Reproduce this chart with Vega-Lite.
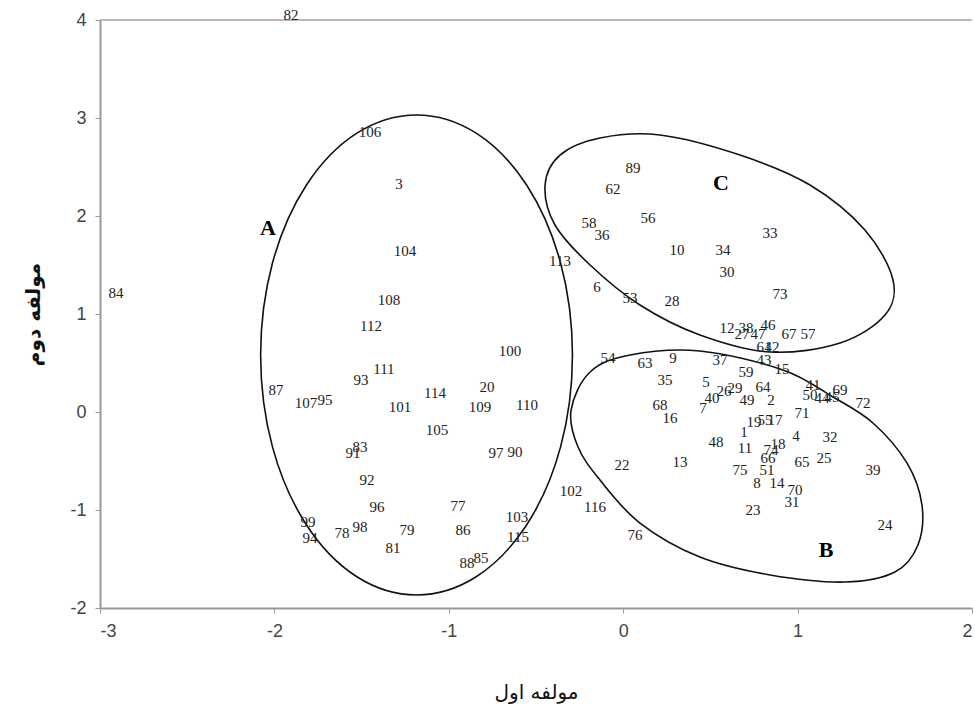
{
  "$schema": "https://vega.github.io/schema/vega-lite/v6.json",
  "width": 872,
  "height": 588,
  "autosize": {"type": "none"},
  "padding": {"left": 100, "top": 20, "right": 3, "bottom": 99},
  "background": "white",
  "config": {"view": {"stroke": null}},
  "datasets": {
    "pts": [
      {"label": "82", "x": -1.905, "y": 4.051},
      {"label": "84", "x": -2.908, "y": 1.214},
      {"label": "106", "x": -1.452, "y": 2.857},
      {"label": "3", "x": -1.286, "y": 2.327},
      {"label": "104", "x": -1.251, "y": 1.643},
      {"label": "108", "x": -1.343, "y": 1.143},
      {"label": "112", "x": -1.446, "y": 0.878},
      {"label": "111", "x": -1.372, "y": 0.439},
      {"label": "93", "x": -1.503, "y": 0.327},
      {"label": "87", "x": -1.991, "y": 0.224},
      {"label": "107", "x": -1.819, "y": 0.092},
      {"label": "95", "x": -1.71, "y": 0.122},
      {"label": "101", "x": -1.28, "y": 0.051},
      {"label": "114", "x": -1.079, "y": 0.194},
      {"label": "20", "x": -0.781, "y": 0.255},
      {"label": "109", "x": -0.821, "y": 0.051},
      {"label": "110", "x": -0.552, "y": 0.071},
      {"label": "100", "x": -0.649, "y": 0.622},
      {"label": "105", "x": -1.068, "y": -0.184},
      {"label": "83", "x": -1.509, "y": -0.357},
      {"label": "91", "x": -1.549, "y": -0.418},
      {"label": "97", "x": -0.729, "y": -0.418},
      {"label": "90", "x": -0.62, "y": -0.408},
      {"label": "92", "x": -1.469, "y": -0.694},
      {"label": "96", "x": -1.412, "y": -0.969},
      {"label": "77", "x": -0.947, "y": -0.959},
      {"label": "103", "x": -0.609, "y": -1.071},
      {"label": "99", "x": -1.807, "y": -1.122},
      {"label": "94", "x": -1.796, "y": -1.286},
      {"label": "78", "x": -1.612, "y": -1.235},
      {"label": "98", "x": -1.509, "y": -1.173},
      {"label": "79", "x": -1.24, "y": -1.204},
      {"label": "86", "x": -0.919, "y": -1.204},
      {"label": "115", "x": -0.603, "y": -1.276},
      {"label": "81", "x": -1.32, "y": -1.388},
      {"label": "88", "x": -0.896, "y": -1.541},
      {"label": "85", "x": -0.815, "y": -1.49},
      {"label": "113", "x": -0.362, "y": 1.541},
      {"label": "102", "x": -0.299, "y": -0.806},
      {"label": "116", "x": -0.162, "y": -0.969},
      {"label": "76", "x": 0.068, "y": -1.255},
      {"label": "89", "x": 0.056, "y": 2.49},
      {"label": "62", "x": -0.058, "y": 2.276},
      {"label": "58", "x": -0.196, "y": 1.929},
      {"label": "36", "x": -0.122, "y": 1.806},
      {"label": "56", "x": 0.142, "y": 1.98},
      {"label": "10", "x": 0.308, "y": 1.653},
      {"label": "34", "x": 0.572, "y": 1.653},
      {"label": "30", "x": 0.595, "y": 1.429},
      {"label": "33", "x": 0.842, "y": 1.827},
      {"label": "6", "x": -0.15, "y": 1.276},
      {"label": "53", "x": 0.039, "y": 1.163},
      {"label": "28", "x": 0.28, "y": 1.133},
      {"label": "73", "x": 0.899, "y": 1.204},
      {"label": "12", "x": 0.595, "y": 0.857},
      {"label": "38", "x": 0.704, "y": 0.857},
      {"label": "46", "x": 0.83, "y": 0.888},
      {"label": "27", "x": 0.681, "y": 0.796},
      {"label": "47", "x": 0.773, "y": 0.796},
      {"label": "67", "x": 0.951, "y": 0.796},
      {"label": "57", "x": 1.06, "y": 0.796},
      {"label": "61", "x": 0.807, "y": 0.663},
      {"label": "42", "x": 0.853, "y": 0.663},
      {"label": "37", "x": 0.555, "y": 0.531},
      {"label": "43", "x": 0.807, "y": 0.531},
      {"label": "15", "x": 0.911, "y": 0.439},
      {"label": "54", "x": -0.087, "y": 0.551},
      {"label": "63", "x": 0.125, "y": 0.5},
      {"label": "9", "x": 0.286, "y": 0.551},
      {"label": "35", "x": 0.24, "y": 0.327},
      {"label": "5", "x": 0.475, "y": 0.306},
      {"label": "59", "x": 0.704, "y": 0.408},
      {"label": "64", "x": 0.802, "y": 0.255},
      {"label": "40", "x": 0.509, "y": 0.143},
      {"label": "7", "x": 0.458, "y": 0.041},
      {"label": "26", "x": 0.578, "y": 0.214},
      {"label": "29", "x": 0.641, "y": 0.245},
      {"label": "49", "x": 0.71, "y": 0.122},
      {"label": "2", "x": 0.848, "y": 0.122},
      {"label": "68", "x": 0.211, "y": 0.071},
      {"label": "16", "x": 0.268, "y": -0.061},
      {"label": "41", "x": 1.088, "y": 0.276},
      {"label": "50", "x": 1.071, "y": 0.173},
      {"label": "44", "x": 1.14, "y": 0.143},
      {"label": "45", "x": 1.197, "y": 0.153},
      {"label": "69", "x": 1.243, "y": 0.224},
      {"label": "72", "x": 1.375, "y": 0.092},
      {"label": "71", "x": 1.025, "y": -0.01},
      {"label": "19", "x": 0.75, "y": -0.102},
      {"label": "55", "x": 0.813, "y": -0.082},
      {"label": "17", "x": 0.87, "y": -0.082},
      {"label": "1", "x": 0.693, "y": -0.204},
      {"label": "11", "x": 0.698, "y": -0.367},
      {"label": "4", "x": 0.991, "y": -0.245},
      {"label": "32", "x": 1.186, "y": -0.255},
      {"label": "18", "x": 0.888, "y": -0.327},
      {"label": "74", "x": 0.848, "y": -0.388},
      {"label": "66", "x": 0.83, "y": -0.469},
      {"label": "65", "x": 1.025, "y": -0.51},
      {"label": "25", "x": 1.151, "y": -0.469},
      {"label": "39", "x": 1.432, "y": -0.592},
      {"label": "48", "x": 0.532, "y": -0.306},
      {"label": "22", "x": -0.007, "y": -0.541},
      {"label": "13", "x": 0.326, "y": -0.51},
      {"label": "75", "x": 0.67, "y": -0.592},
      {"label": "51", "x": 0.824, "y": -0.592},
      {"label": "8", "x": 0.767, "y": -0.724},
      {"label": "14", "x": 0.882, "y": -0.724},
      {"label": "70", "x": 0.985, "y": -0.796},
      {"label": "31", "x": 0.968, "y": -0.918},
      {"label": "23", "x": 0.744, "y": -1.0},
      {"label": "24", "x": 1.501, "y": -1.153}
    ],
    "letters": [
      {"label": "A", "x": -2.037, "y": 1.878},
      {"label": "B", "x": 1.163, "y": -1.408},
      {"label": "C", "x": 0.561, "y": 2.337}
    ],
    "ell": [
      {"g": "A", "i": 0, "x": -0.291, "y": 0.582},
      {"g": "A", "i": 1, "x": -0.359, "y": 1.52},
      {"g": "A", "i": 2, "x": -0.553, "y": 2.314},
      {"g": "A", "i": 3, "x": -0.843, "y": 2.845},
      {"g": "A", "i": 4, "x": -1.185, "y": 3.031},
      {"g": "A", "i": 5, "x": -1.527, "y": 2.845},
      {"g": "A", "i": 6, "x": -1.817, "y": 2.314},
      {"g": "A", "i": 7, "x": -2.011, "y": 1.52},
      {"g": "A", "i": 8, "x": -2.079, "y": 0.582},
      {"g": "A", "i": 9, "x": -2.011, "y": -0.356},
      {"g": "A", "i": 10, "x": -1.817, "y": -1.15},
      {"g": "A", "i": 11, "x": -1.527, "y": -1.681},
      {"g": "A", "i": 12, "x": -1.185, "y": -1.867},
      {"g": "A", "i": 13, "x": -0.843, "y": -1.681},
      {"g": "A", "i": 14, "x": -0.553, "y": -1.15},
      {"g": "A", "i": 15, "x": -0.359, "y": -0.356},
      {"g": "C", "i": 0, "x": -0.448, "y": 2.316},
      {"g": "C", "i": 1, "x": -0.362, "y": 2.622},
      {"g": "C", "i": 2, "x": -0.133, "y": 2.796},
      {"g": "C", "i": 3, "x": 0.211, "y": 2.827},
      {"g": "C", "i": 4, "x": 0.67, "y": 2.622},
      {"g": "C", "i": 5, "x": 1.071, "y": 2.316},
      {"g": "C", "i": 6, "x": 1.386, "y": 1.857},
      {"g": "C", "i": 7, "x": 1.547, "y": 1.347},
      {"g": "C", "i": 8, "x": 1.501, "y": 0.99},
      {"g": "C", "i": 9, "x": 1.243, "y": 0.704},
      {"g": "C", "i": 10, "x": 0.842, "y": 0.612},
      {"g": "C", "i": 11, "x": 0.44, "y": 0.786},
      {"g": "C", "i": 12, "x": 0.096, "y": 1.092},
      {"g": "C", "i": 13, "x": -0.19, "y": 1.5},
      {"g": "C", "i": 14, "x": -0.391, "y": 1.908},
      {"g": "B", "i": 0, "x": -0.299, "y": 0.02},
      {"g": "B", "i": 1, "x": -0.19, "y": 0.408},
      {"g": "B", "i": 2, "x": 0.039, "y": 0.582},
      {"g": "B", "i": 3, "x": 0.44, "y": 0.622},
      {"g": "B", "i": 4, "x": 0.916, "y": 0.429},
      {"g": "B", "i": 5, "x": 1.203, "y": 0.153},
      {"g": "B", "i": 6, "x": 1.432, "y": -0.112},
      {"g": "B", "i": 7, "x": 1.627, "y": -0.52},
      {"g": "B", "i": 8, "x": 1.713, "y": -0.949},
      {"g": "B", "i": 9, "x": 1.69, "y": -1.357},
      {"g": "B", "i": 10, "x": 1.558, "y": -1.633},
      {"g": "B", "i": 11, "x": 1.272, "y": -1.735},
      {"g": "B", "i": 12, "x": 0.842, "y": -1.663},
      {"g": "B", "i": 13, "x": 0.44, "y": -1.48},
      {"g": "B", "i": 14, "x": 0.096, "y": -1.133},
      {"g": "B", "i": 15, "x": -0.133, "y": -0.694},
      {"g": "B", "i": 16, "x": -0.259, "y": -0.357}
    ],
    "top": [{"y": 4}]
  },
  "encoding": {
    "x": {
      "field": "x", "type": "quantitative",
      "scale": {"domain": [-3, 2], "nice": false, "zero": false},
      "axis": {
        "title": "مولفه اول", "values": [-3, -2, -1, 0, 1, 2], "grid": false,
        "labelExpr": "'' + datum.value",
        "domainColor": "#999999", "domainWidth": 2, "tickColor": "#999999", "tickSize": 5,
        "labelFont": "Liberation Sans", "labelFontSize": 18, "labelColor": "#444444", "labelPadding": 9,
        "titleFont": "DejaVu Sans", "titleFontSize": 20, "titleFontWeight": "normal", "titleColor": "#111111", "titlePadding": 42
      }
    },
    "y": {
      "field": "y", "type": "quantitative",
      "scale": {"domain": [-2, 4], "nice": false, "zero": false},
      "axis": {
        "title": "مولفه دوم", "values": [-2, -1, 0, 1, 2, 3, 4], "grid": false,
        "labelExpr": "'' + datum.value",
        "domainColor": "#999999", "domainWidth": 2, "tickColor": "#999999", "tickSize": 5,
        "labelFont": "Liberation Sans", "labelFontSize": 18, "labelColor": "#444444", "labelPadding": 9,
        "titleFont": "DejaVu Sans", "titleFontSize": 20, "titleFontWeight": "bold", "titleColor": "#111111", "titlePadding": 26
      }
    }
  },
  "layer": [
    {
      "data": {"name": "top"},
      "mark": {"type": "rule", "color": "#bbbbbb", "strokeWidth": 2},
      "encoding": {"x": null, "y": {"field": "y", "type": "quantitative"}}
    },
    {
      "data": {"name": "ell"},
      "mark": {"type": "line", "interpolate": "cardinal-closed", "color": "#111111", "strokeWidth": 1.6},
      "encoding": {
        "detail": {"field": "g"},
        "order": {"field": "i", "type": "quantitative"}
      }
    },
    {
      "data": {"name": "pts"},
      "mark": {"type": "text", "font": "Liberation Serif", "fontSize": 15, "color": "#222222", "baseline": "middle", "align": "center"},
      "encoding": {"text": {"field": "label"}}
    },
    {
      "data": {"name": "letters"},
      "mark": {"type": "text", "font": "Liberation Serif", "fontSize": 22, "fontWeight": "bold", "color": "#000000", "baseline": "middle", "align": "center"},
      "encoding": {"text": {"field": "label"}}
    }
  ]
}
